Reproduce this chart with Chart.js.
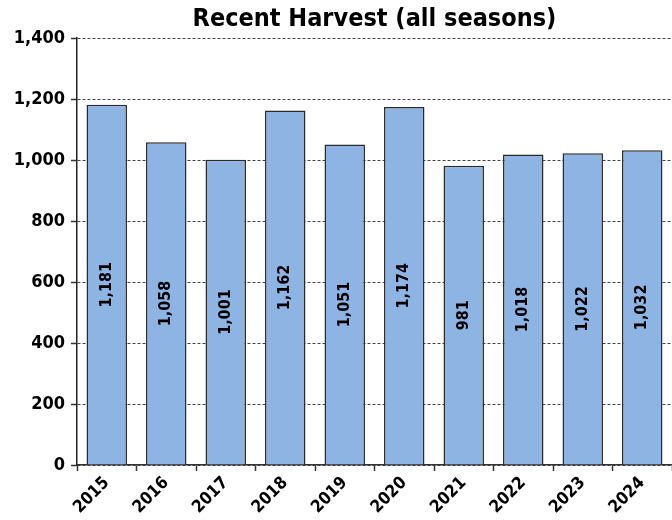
<!DOCTYPE html>
<html>
<head>
<meta charset="utf-8">
<script src="https://cdn.jsdelivr.net/npm/chart.js@4.4.1/dist/chart.umd.min.js"></script>
<style>
  html, body { margin: 0; padding: 0; background: #fff; }
  #wrap { width: 672px; height: 520px; }
</style>
</head>
<body>
<div id="wrap"><canvas id="harvest"></canvas></div>
<script>
var years = ['2015', '2016', '2017', '2018', '2019', '2020', '2021', '2022', '2023', '2024'];
var harvest = [1181, 1058, 1001, 1162, 1051, 1174, 981, 1018, 1022, 1032];
var yTicks = [0, 200, 400, 600, 800, 1000, 1200, 1400];

var _Font = '"Liberation Sans Narrow", "DejaVu Sans Condensed", "Arial Narrow", Arial, sans-serif';

function fmt(v) {
    return v.toLocaleString('en-US');
}

// writes the value sideways in the middle of each bar
var barValues = {
    id: 'barValues',
    afterDatasetsDraw: function (chart) {
        var ctx = chart.ctx;
        var meta = chart.getDatasetMeta(0);
        ctx.save();
        ctx.font = 'bold 16px ' + _Font;
        ctx.fillStyle = '#000';
        ctx.textAlign = 'center';
        ctx.textBaseline = 'middle';
        for (var i = 0; i < meta.data.length; i++) {
            var bar = meta.data[i];
            var mid = (bar.y + bar.base) / 2;
            ctx.save();
            ctx.translate(bar.x, mid);
            ctx.rotate(-Math.PI / 2);
            ctx.fillText(fmt(chart.data.datasets[0].data[i]), 0, 0);
            ctx.restore();
        }
        ctx.restore();
    }
};

var ctx = document.getElementById('harvest');
var HarvestChart = new Chart(ctx, {
    type: 'bar',
    data: {
        labels: years,
        datasets: [{
            label: 'Harvest',
            data: harvest,
            backgroundColor: '#8EB4E3',
            borderColor: '#2a2a2a',
            borderWidth: 1.5,
            barPercentage: 0.68,
            categoryPercentage: 1.0
        }]
    },
    options: {
        responsive: true,
        maintainAspectRatio: false,
        animation: false,
        layout: { padding: { left: 0, right: 0, top: 0, bottom: 0 } },
        plugins: {
            legend: { display: false },
            tooltip: { enabled: false },
            title: {
                display: true,
                fullSize: false,
                text: 'Recent Harvest (all seasons)',
                color: '#000',
                font: { family: _Font, size: 25, weight: 'bold', lineHeight: 1.2 },
                padding: { top: 4, bottom: 4 }
            }
        },
        scales: {
            x: {
                offset: true,
                grid: {
                    offset: true,
                    drawOnChartArea: false,
                    drawTicks: true,
                    tickLength: 6,
                    tickColor: '#333',
                    tickWidth: 1.5
                },
                border: { display: true, color: '#333', width: 1.5 },
                ticks: {
                    color: '#000',
                    font: { family: _Font, size: 17, weight: 'bold' },
                    minRotation: 45,
                    maxRotation: 45,
                    padding: 2
                },
                afterFit: function (scale) { scale.height = 55; }
            },
            y: {
                min: 0,
                max: 1400,
                afterBuildTicks: function (scale) {
                    scale.ticks = yTicks.map(function (v) { return { value: v }; });
                },
                grid: {
                    color: '#444',
                    lineWidth: 1,
                    drawTicks: true,
                    tickLength: 6,
                    tickColor: '#333',
                    tickWidth: 1.5,
                    tickBorderDash: [],
                    drawOnChartArea: true
                },
                border: { display: true, color: '#222', width: 1.5, dash: [3, 2] },
                ticks: {
                    color: '#000',
                    font: { family: _Font, size: 18, weight: 'bold' },
                    padding: 6,
                    callback: function (v) { return fmt(v); }
                },
                afterFit: function (scale) { scale.width = 77; }
            }
        }
    },
    plugins: [barValues]
});
</script>
</body>
</html>
